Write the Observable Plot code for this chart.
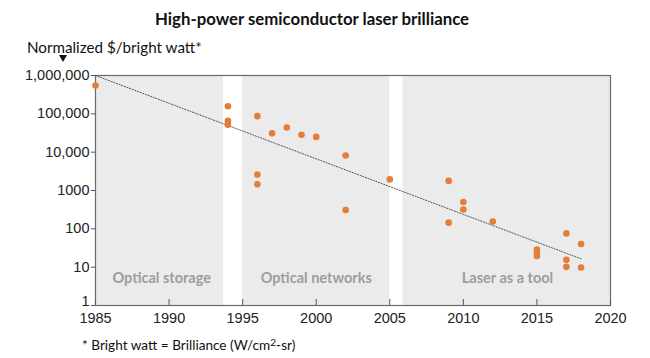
<!DOCTYPE html>
<html><head><meta charset="utf-8">
<script src="https://cdn.jsdelivr.net/npm/d3@7"></script>
<script src="https://cdn.jsdelivr.net/npm/@observablehq/plot@0.6"></script>
<style>
body{margin:0;background:#fff;}
#wrap{position:relative;width:650px;height:358px;font-family:Lato,"Open Sans",sans-serif;color:#111;}
#chart{position:absolute;left:0;top:0;}
.t{position:absolute;white-space:nowrap;line-height:1;}
#title{left:155px;top:11px;font-weight:bold;font-size:16.8px;}
#ylab{left:27px;top:40px;font-size:15.2px;}
#tri{position:absolute;left:59px;top:55px;width:0;height:0;border-left:4px solid transparent;border-right:4px solid transparent;border-top:7px solid #111;}
#foot{left:82px;top:339px;font-size:13.6px;}
#foot sup{font-size:10px;vertical-align:4px;line-height:0;}
</style></head>
<body>
<div id="wrap">
  <div id="chart"></div>
  <div class="t" id="title">High-power semiconductor laser brilliance</div>
  <div class="t" id="ylab">Normalized $/bright watt*</div>
  <div id="tri"></div>
  <div class="t" id="foot">* Bright watt = Brilliance (W/cm<sup>2</sup>-sr)</div>
</div>
<script>
// Data points (year, normalized $/bright watt)
const years  = [1985, 1994, 1994, 1994, 1996, 1996, 1996, 1997, 1998, 1999, 2000, 2002, 2002, 2005, 2009, 2009, 2010, 2010, 2012, 2015, 2015, 2015, 2017, 2017, 2017, 2018, 2018];
const values = [550000, 158000, 66000, 52000, 87000, 2600, 1450, 31000, 44000, 28500, 25000, 8200, 310, 1950, 1780, 145, 500, 320, 155, 29, 23, 19.5, 76, 15.5, 10.2, 40, 9.8];

// Trend line
const trendYears  = [1985, 2018];
const trendValues = [1000000, 16.5];

// Era bands
const bandStart  = [1985, 1995, 2005.9];
const bandEnd    = [1993.7, 2005, 2020];
const bandLabels = ["Optical storage", "Optical networks", "Laser as a tool"];
const labelYear  = [1989.5, 2000, 2013];
const labelValue = [5, 5, 5];

// Ticks
const xTicks = [1985, 1990, 1995, 2000, 2005, 2010, 2015, 2020];
const yTicks = [1, 10, 100, 1000, 10000, 100000, 1000000];
const yTickLabels = ["", "10", "100", "1000", "10,000", "100,000", "1,000,000"];
const yBottomTick = [1];
const yBottomLabel = ["1"];

const points = years.map((y, i) => ({year: y, value: values[i]}));
const trend = trendYears.map((y, i) => ({year: y, value: trendValues[i]}));
const bands = bandStart.map((s, i) => ({start: s, end: bandEnd[i]}));
const labels = bandLabels.map((t, i) => ({text: t, year: labelYear[i], value: labelValue[i]}));

const tickFont = "'Liberation Sans', Arial, sans-serif";

const chart = Plot.plot({
  width: 650, height: 358,
  marginTop: 75, marginBottom: 53, marginLeft: 95, marginRight: 40,
  style: {background: "transparent"},
  x: {domain: [1985, 2020]},
  y: {type: "log", domain: [1, 1000000]},
  marks: [
    Plot.rect(bands, {x1: "start", x2: "end", fill: "#ebebeb"}),
    Plot.text(labels, {x: "year", y: "value", text: "text", fill: "#9d9d9d", fontWeight: "bold", fontSize: 14.5, fontFamily: "Lato, 'Open Sans', sans-serif"}),
    Plot.frame({stroke: "#6a6a6a", strokeWidth: 1.2}),
    Plot.tickX(xTicks, {x: d => d, stroke: "#555", insetTop: 224}),
    Plot.axisX(xTicks, {tickSize: 0, tickPadding: 7, tickFormat: d => String(d), label: null, fontSize: 14.5, fontFamily: tickFont, fill: "#222"}),
    Plot.axisY(yTicks, {tickSize: 4, tickPadding: 2, tickFormat: d => yTickLabels[yTicks.indexOf(d)], label: null, fontSize: 14.5, fontFamily: tickFont, fill: "#222", stroke: "#555"}),
    Plot.axisY(yBottomTick, {tickSize: 0, tickPadding: 6, tickFormat: d => yBottomLabel[yBottomTick.indexOf(d)], label: null, fontSize: 14.5, fontFamily: tickFont, fill: "#222", dy: -4}),
    Plot.line(trend, {x: "year", y: "value", stroke: "#555", strokeWidth: 1, strokeDasharray: "1.2,1.6"}),
    Plot.dot(points, {x: "year", y: "value", r: 3.3, fill: "#e37d3a"})
  ]
});
document.getElementById("chart").appendChild(chart);
</script>
</body></html>
